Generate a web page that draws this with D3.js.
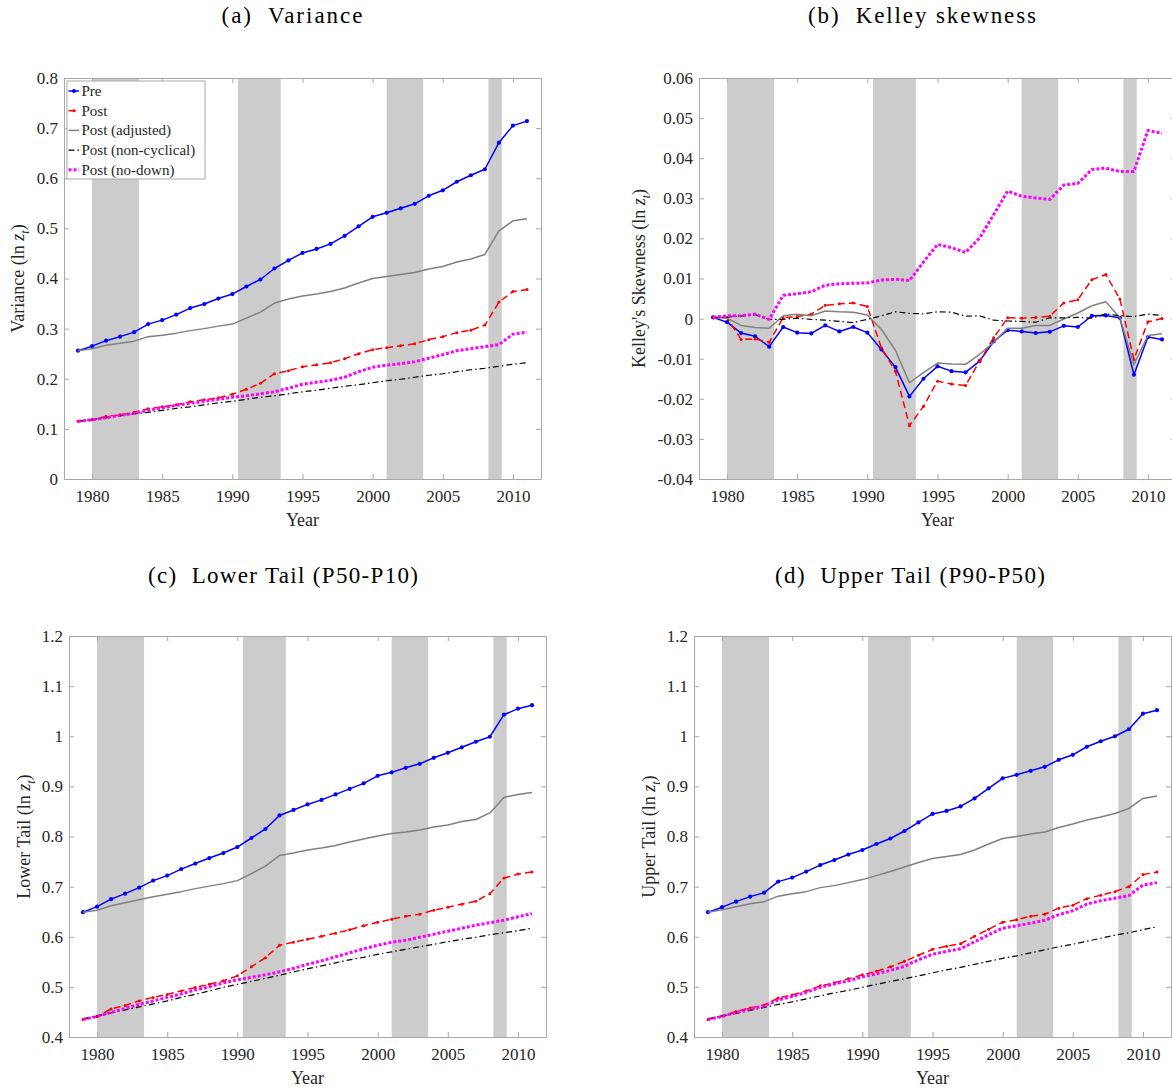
<!DOCTYPE html>
<html><head><meta charset="utf-8">
<script src="https://cdn.jsdelivr.net/npm/d3@7"></script>
<style>body{margin:0;background:#fff}svg{display:block}text{font-family:"Liberation Serif","Times New Roman",serif}</style>
</head><body>
<svg id="chart" width="1172" height="1089"></svg>
<script>
const years = [1979,1980,1981,1982,1983,1984,1985,1986,1987,1988,1989,1990,1991,1992,1993,1994,1995,1996,1997,1998,1999,2000,2001,2002,2003,2004,2005,2006,2007,2008,2009,2010,2011];
const recessions = [[1980.0,1983.35],[1990.4,1993.45],[2001.0,2003.6],[2008.25,2009.2]];
const xTicks = [1980,1985,1990,1995,2000,2005,2010];
const seriesNames = ["Pre","Post","Post (adjusted)","Post (non-cyclical)","Post (no-down)"];

// (a) Variance
const varTicks = [0,0.1,0.2,0.3,0.4,0.5,0.6,0.7,0.8];
const varTickLabels = ["0","0.1","0.2","0.3","0.4","0.5","0.6","0.7","0.8"];
const varPre = [0.256,0.265,0.276,0.284,0.293,0.309,0.317,0.328,0.341,0.349,0.360,0.369,0.384,0.398,0.420,0.436,0.451,0.459,0.469,0.485,0.504,0.523,0.531,0.540,0.549,0.565,0.576,0.593,0.606,0.618,0.671,0.705,0.714];
const varPost = [0.115,0.118,0.125,0.128,0.133,0.140,0.144,0.148,0.154,0.158,0.162,0.169,0.179,0.191,0.210,0.216,0.224,0.228,0.232,0.240,0.250,0.258,0.262,0.266,0.270,0.278,0.284,0.292,0.297,0.307,0.353,0.374,0.378];
const varAdj = [0.256,0.260,0.267,0.271,0.275,0.284,0.287,0.291,0.296,0.300,0.305,0.309,0.321,0.333,0.351,0.359,0.365,0.369,0.374,0.381,0.391,0.400,0.404,0.408,0.412,0.419,0.424,0.433,0.439,0.448,0.495,0.515,0.519];
const varNonCyc = [0.115,0.119,0.122,0.126,0.130,0.133,0.137,0.141,0.144,0.148,0.152,0.155,0.159,0.163,0.166,0.170,0.174,0.177,0.181,0.185,0.188,0.192,0.196,0.199,0.203,0.207,0.210,0.214,0.218,0.221,0.225,0.229,0.232];
const varNoDown = [0.115,0.118,0.122,0.127,0.131,0.137,0.142,0.147,0.151,0.155,0.159,0.163,0.166,0.170,0.174,0.181,0.189,0.193,0.197,0.203,0.214,0.223,0.227,0.230,0.234,0.241,0.248,0.256,0.260,0.264,0.268,0.289,0.293];

// (b) Kelley skewness
const kelTicks = [-0.04,-0.03,-0.02,-0.01,0,0.01,0.02,0.03,0.04,0.05,0.06];
const kelTickLabels = ["-0.04","-0.03","-0.02","-0.01","0","0.01","0.02","0.03","0.04","0.05","0.06"];
const kelPre = [0.0003,-0.0009,-0.0036,-0.0044,-0.0070,-0.0021,-0.0035,-0.0037,-0.0017,-0.0032,-0.0021,-0.0035,-0.0077,-0.0121,-0.0194,-0.0150,-0.0119,-0.0131,-0.0134,-0.0106,-0.0057,-0.0029,-0.0032,-0.0036,-0.0033,-0.0018,-0.0021,0.0007,0.0008,0.0002,-0.0140,-0.0046,-0.0052];
const kelPost = [0.0003,0.0002,-0.0052,-0.0051,-0.0059,0.0002,0.0005,0.0011,0.0033,0.0037,0.0039,0.0030,-0.0073,-0.0131,-0.0267,-0.0219,-0.0156,-0.0163,-0.0167,-0.0106,-0.0048,0.0002,0.0001,0.0003,0.0006,0.0039,0.0047,0.0097,0.0110,0.0049,-0.0102,-0.0008,0.0000];
const kelAdj = [0.0003,0.0001,-0.0017,-0.0022,-0.0024,0.0007,0.0011,0.0007,0.0019,0.0017,0.0016,0.0009,-0.0027,-0.0079,-0.0160,-0.0135,-0.0111,-0.0113,-0.0114,-0.0089,-0.0059,-0.0024,-0.0024,-0.0017,-0.0017,-0.0001,0.0014,0.0032,0.0042,0.0002,-0.0115,-0.0042,-0.0038];
const kelNonCyc = [0.0003,0.0004,0.0006,0.0010,-0.0002,-0.0002,0.0001,-0.0002,-0.0004,-0.0007,-0.0010,-0.0002,0.0007,0.0017,0.0013,0.0012,0.0017,0.0016,0.0006,0.0007,-0.0004,-0.0006,-0.0007,-0.0009,0.0002,0.0002,0.0003,0.0001,0.0012,0.0007,0.0005,0.0011,0.0008];
const kelNoDown = [0.0003,0.0007,0.0007,0.0011,-0.0002,0.0058,0.0062,0.0067,0.0083,0.0087,0.0088,0.0089,0.0096,0.0098,0.0095,0.0141,0.0185,0.0177,0.0165,0.0201,0.0259,0.0318,0.0305,0.0301,0.0297,0.0333,0.0337,0.0372,0.0375,0.0367,0.0367,0.0469,0.0462];

// (c) Lower tail
const tailTicks = [0.4,0.5,0.6,0.7,0.8,0.9,1.0,1.1,1.2];
const tailTickLabels = ["0.4","0.5","0.6","0.7","0.8","0.9","1","1.1","1.2"];
const lowPre = [0.649,0.660,0.675,0.686,0.698,0.712,0.722,0.735,0.746,0.757,0.767,0.779,0.797,0.815,0.842,0.853,0.864,0.873,0.884,0.895,0.906,0.921,0.928,0.937,0.945,0.957,0.967,0.978,0.989,0.999,1.043,1.055,1.062];
const lowPost = [0.435,0.441,0.456,0.463,0.472,0.479,0.485,0.492,0.499,0.505,0.512,0.522,0.540,0.558,0.583,0.589,0.595,0.601,0.607,0.614,0.622,0.629,0.635,0.641,0.645,0.653,0.659,0.665,0.671,0.686,0.717,0.725,0.729];
const lowAdj = [0.649,0.653,0.662,0.668,0.674,0.680,0.685,0.690,0.696,0.701,0.706,0.712,0.726,0.741,0.762,0.767,0.773,0.777,0.782,0.789,0.795,0.801,0.806,0.809,0.813,0.819,0.823,0.830,0.834,0.847,0.878,0.884,0.888];
const lowNonCyc = [0.436,0.442,0.448,0.454,0.460,0.466,0.472,0.479,0.485,0.492,0.499,0.505,0.511,0.517,0.523,0.530,0.536,0.542,0.548,0.554,0.559,0.565,0.570,0.575,0.580,0.585,0.590,0.595,0.599,0.604,0.608,0.612,0.617];
const lowNoDown = [0.435,0.441,0.449,0.457,0.465,0.472,0.479,0.486,0.494,0.500,0.508,0.514,0.519,0.524,0.530,0.537,0.545,0.552,0.560,0.568,0.576,0.583,0.589,0.593,0.599,0.605,0.611,0.617,0.623,0.628,0.633,0.640,0.646];

// (d) Upper tail
const upPre = [0.649,0.659,0.670,0.680,0.688,0.710,0.718,0.730,0.743,0.753,0.764,0.773,0.785,0.796,0.811,0.828,0.845,0.851,0.860,0.876,0.896,0.916,0.923,0.931,0.939,0.953,0.963,0.979,0.990,1.000,1.014,1.045,1.052];
const upPost = [0.435,0.442,0.451,0.458,0.464,0.478,0.484,0.492,0.502,0.508,0.516,0.524,0.531,0.540,0.551,0.563,0.575,0.581,0.586,0.601,0.615,0.629,0.634,0.641,0.645,0.657,0.663,0.676,0.683,0.690,0.700,0.724,0.729];
const upAdj = [0.649,0.654,0.660,0.666,0.670,0.681,0.686,0.690,0.698,0.702,0.708,0.714,0.722,0.730,0.739,0.748,0.756,0.760,0.764,0.773,0.785,0.796,0.800,0.805,0.809,0.818,0.825,0.833,0.839,0.846,0.856,0.876,0.881];
const upNonCyc = [0.436,0.442,0.447,0.453,0.459,0.465,0.470,0.476,0.482,0.488,0.493,0.499,0.505,0.511,0.516,0.522,0.528,0.534,0.539,0.545,0.551,0.557,0.562,0.568,0.574,0.580,0.585,0.591,0.597,0.603,0.608,0.614,0.620];
const upNoDown = [0.435,0.441,0.449,0.456,0.462,0.474,0.481,0.489,0.499,0.506,0.512,0.520,0.526,0.533,0.541,0.554,0.565,0.571,0.576,0.590,0.604,0.617,0.622,0.627,0.633,0.644,0.652,0.665,0.672,0.677,0.682,0.703,0.708];

// ---------- drawing ----------
const styles = [
  {color:"#0000ff", width:1.5, dash:null, marker:2.1},
  {color:"#ff0000", width:1.5, dash:"7,4", marker:1.5},
  {color:"#808080", width:1.5, dash:null, marker:0},
  {color:"#000000", width:1.2, dash:"6,3,1.5,3", marker:0},
  {color:"#ff00ff", width:3, dash:"3,2", marker:0}
];
const FONT = "Liberation Serif, Times New Roman, serif";
const AXIS_COLOR = "#a8a8a8";
const TEXT_COLOR = "#262626";
const W = 477, H = 401;

const panels = [
  {title:"(a)  Variance", tx:292, ty:23, tlen:141, ylab:"Variance", ylx:18, left:64, top:78,
   yDomain:[0,0.8], yTicks:varTicks, yLabels:varTickLabels, data:[varPre,varPost,varAdj,varNonCyc,varNoDown], legend:true},
  {title:"(b)  Kelley skewness", tx:922, ty:23, tlen:228, ylab:"Kelley's Skewness", ylx:639, left:699, top:78,
   yDomain:[-0.04,0.06], yTicks:kelTicks, yLabels:kelTickLabels, data:[kelPre,kelPost,kelAdj,kelNonCyc,kelNoDown]},
  {title:"(c)  Lower Tail (P50-P10)", tx:283, ty:583, tlen:270, ylab:"Lower Tail", ylx:24, left:69, top:636,
   yDomain:[0.4,1.2], yTicks:tailTicks, yLabels:tailTickLabels, data:[lowPre,lowPost,lowAdj,lowNonCyc,lowNoDown]},
  {title:"(d)  Upper Tail (P90-P50)", tx:910, ty:583, tlen:270, ylab:"Upper Tail", ylx:649, left:694, top:636,
   yDomain:[0.4,1.2], yTicks:tailTicks, yLabels:tailTickLabels, data:[upPre,upPost,upAdj,upNonCyc,upNoDown]}
];

const svg = d3.select("#chart");
svg.append("rect").attr("width",1172).attr("height",1089).attr("fill","#fff");

panels.forEach((p,pi) => {
  const x = d3.scaleLinear().domain([1978,2012]).range([0,W]);
  const y = d3.scaleLinear().domain(p.yDomain).range([H,0]);
  const g = svg.append("g").attr("transform",`translate(${p.left},${p.top})`);

  const clipId = "clip"+pi;
  g.append("clipPath").attr("id",clipId).append("rect").attr("width",W).attr("height",H);

  // recession shading
  g.append("g").selectAll("rect").data(recessions).join("rect")
    .attr("x",d=>x(d[0])).attr("width",d=>x(d[1])-x(d[0]))
    .attr("y",0).attr("height",H).attr("fill","#cccccc");

  // lines
  const plot = g.append("g").attr("clip-path",`url(#${clipId})`);
  p.data.forEach((vals,si) => {
    const st = styles[si];
    const pts = years.map((yr,i)=>({yr, v:vals[i]}));
    const line = d3.line().x(d=>x(d.yr)).y(d=>y(d.v));
    plot.append("path").datum(pts).attr("d",line)
      .attr("fill","none").attr("stroke",st.color).attr("stroke-width",st.width)
      .attr("stroke-dasharray",st.dash).attr("stroke-linejoin","round");
    if (st.marker>0) {
      plot.append("g").selectAll("circle").data(pts).join("circle")
        .attr("cx",d=>x(d.yr)).attr("cy",d=>y(d.v)).attr("r",st.marker).attr("fill",st.color);
    }
  });

  // axes
  const fmtY = (d,i)=>p.yLabels[i];
  const styleAxis = sel => {
    sel.attr("font-family",FONT).attr("font-size",17);
    sel.select(".domain").attr("stroke",AXIS_COLOR);
    sel.selectAll(".tick line").attr("stroke",AXIS_COLOR);
    sel.selectAll("text").attr("fill",TEXT_COLOR).attr("font-family",FONT).attr("font-size",17);
  };
  g.append("g").attr("transform",`translate(0,${H})`)
    .call(d3.axisBottom(x).tickValues(xTicks).tickFormat(d=>String(d)).tickSizeInner(-5).tickSizeOuter(0).tickPadding(11))
    .call(styleAxis);
  g.append("g")
    .call(d3.axisTop(x).tickValues(xTicks).tickFormat("").tickSizeInner(-5).tickSizeOuter(0))
    .call(styleAxis);
  g.append("g")
    .call(d3.axisLeft(y).tickValues(p.yTicks).tickFormat(fmtY).tickSizeInner(-5).tickSizeOuter(0).tickPadding(6))
    .call(styleAxis);
  g.append("g").attr("transform",`translate(${W},0)`)
    .call(d3.axisRight(y).tickValues(p.yTicks).tickFormat("").tickSizeInner(-5).tickSizeOuter(0))
    .call(styleAxis);

  // x label
  g.append("text").attr("x",W/2).attr("y",H+47).attr("text-anchor","middle")
    .attr("font-family",FONT).attr("font-size",18).attr("fill",TEXT_COLOR).text("Year");

  // y label
  const yl = svg.append("text")
    .attr("transform",`translate(${p.ylx},${p.top+H/2}) rotate(-90)`)
    .attr("text-anchor","middle").attr("dominant-baseline","central")
    .attr("font-family",FONT).attr("font-size",18).attr("fill",TEXT_COLOR);
  yl.append("tspan").text(p.ylab+" (ln ");
  yl.append("tspan").attr("font-style","italic").text("z");
  yl.append("tspan").attr("baseline-shift","sub").attr("font-style","italic").attr("font-size",12).text("t");
  yl.append("tspan").text(")");

  // title
  svg.append("text").attr("x",p.tx).attr("y",p.ty).attr("text-anchor","middle")
    .attr("textLength",p.tlen).attr("lengthAdjust","spacing")
    .attr("xml:space","preserve").style("white-space","pre")
    .attr("font-family",FONT).attr("font-size",23).attr("fill","#000").text(p.title);

  // legend
  if (p.legend) {
    const lg = g.append("g").attr("transform","translate(3,3)");
    lg.append("rect").attr("width",138).attr("height",98).attr("fill","#fff").attr("stroke",AXIS_COLOR).attr("stroke-width",1);
    seriesNames.forEach((nm,i) => {
      const st = styles[i];
      const cy = 10 + i*19.7;
      lg.append("line").attr("x1",1.5).attr("x2",12).attr("y1",cy).attr("y2",cy)
        .attr("stroke",st.color).attr("stroke-width",st.width).attr("stroke-dasharray",st.dash);
      if (st.marker>0) lg.append("circle").attr("cx",7).attr("cy",cy).attr("r",st.marker).attr("fill",st.color);
      lg.append("text").attr("x",14.5).attr("y",cy).attr("dominant-baseline","central")
        .attr("font-family",FONT).attr("font-size",15).attr("fill",TEXT_COLOR).text(nm);
    });
  }
});
</script>
</body></html>
